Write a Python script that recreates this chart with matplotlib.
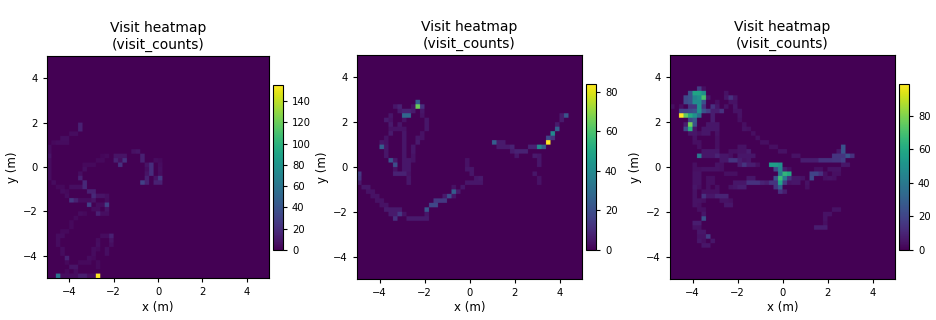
import numpy as np
import matplotlib
matplotlib.use("Agg")
import matplotlib.pyplot as plt

# (col, row, visits) on a 50x50 grid, row 0 at the bottom, everything else is 0
cells_a = [
    (7,34,14),(7,33,14),(5,32,5),(6,32,5),(3,31,6),(4,31,6),(1,30,4),(2,30,5),(3,30,5),(4,30,5),
    (0,29,5),(0,28,5),(19,28,7),(20,28,9),(0,27,8),(12,27,3),(13,27,4),(15,27,8),(16,27,8),(17,27,8),(21,27,14),
    (0,26,5),(11,26,4),(12,26,4),(15,26,14),(17,26,22),(16,26,6),(21,26,14),(24,26,5),(25,26,4),
    (0,25,5),(8,25,4),(9,25,4),(10,25,4),(16,25,22),(22,25,8),(23,25,20),(25,25,5),
    (0,24,5),(8,24,6),(22,24,6),(23,24,20),(25,24,6),
    (0,23,5),(7,23,6),(22,23,8),(23,23,20),(25,23,5),
    (0,22,5),(7,22,14),(22,22,14),(24,22,8),(25,22,25),
    (1,21,5),(8,21,18),(21,21,30),(22,21,14),(24,21,14),(25,21,14),
    (2,20,4),(3,20,4),(5,20,6),(6,20,6),(7,20,6),(8,20,18),
    (3,19,5),(4,19,4),(9,19,14),(10,19,14),
    (4,18,5),(10,18,18),(11,18,8),(12,18,8),(13,18,6),
    (5,17,25),(6,17,14),(7,17,5),(8,17,5),(9,17,5),(10,17,8),(13,17,5),
    (9,16,30),(11,16,5),(12,16,5),(13,16,30),
    (10,15,5),(11,15,5),(13,15,8),
    (7,14,5),(8,14,4),(11,14,14),(12,14,6),(13,14,6),
    (6,13,4),(5,12,4),(5,11,4),(3,10,4),(4,10,4),
    (2,9,5),(3,9,5),(12,9,5),(13,9,5),(14,9,14),
    (2,8,5),(11,8,5),(14,8,8),(2,7,5),(11,7,6),(14,7,6),
    (3,6,5),(10,6,5),(11,6,4),(13,6,6),(3,5,5),(10,5,5),(13,5,6),
    (4,4,14),(9,4,5),(10,4,4),(4,3,4),(7,3,4),(8,3,4),(9,3,4),(11,3,4),
    (5,2,8),(6,2,8),(11,2,4),(4,1,4),(6,1,5),
    (2,0,60),(3,0,5),(4,0,5),(5,0,5),(6,0,5),(7,0,12),(8,0,12),(9,0,5),(10,0,5),(11,0,155),
]
cells_b = [
    (13,39,25),(8,38,5),(9,38,8),(12,38,4),(13,38,65),(14,38,12),
    (9,37,6),(10,37,8),(11,37,8),(12,37,6),(14,37,5),
    (7,36,5),(10,36,28),(11,36,28),(14,36,4),(45,36,6),(46,36,22),
    (6,35,6),(7,35,4),(10,35,4),(15,35,5),(45,35,6),
    (7,34,6),(9,34,5),(15,34,5),(44,34,6),
    (7,33,4),(8,33,4),(9,33,4),(10,33,4),(15,33,5),(44,33,25),
    (7,32,6),(10,32,5),(14,32,4),(43,32,40),
    (6,31,4),(10,31,5),(13,31,5),(14,31,4),(42,31,18),(43,31,12),
    (5,30,5),(6,30,4),(10,30,5),(13,30,6),(30,30,25),(31,30,6),(32,30,6),(42,30,84),
    (5,29,25),(6,29,5),(10,29,5),(12,29,5),(31,29,6),(32,29,6),(33,29,6),(34,29,8),(38,29,8),(39,29,8),(40,29,40),(41,29,25),
    (6,28,5),(10,28,5),(12,28,5),(34,28,6),(35,28,8),(36,28,8),(37,28,8),
    (6,27,5),(10,27,5),(12,27,4),(35,27,5),(39,27,6),(40,27,5),
    (7,26,22),(8,26,6),(10,26,5),(11,26,5),(12,26,4),(24,26,4),(40,26,5),
    (8,25,20),(10,25,5),(11,25,5),(24,25,4),(40,25,5),
    (8,24,4),(10,24,5),(11,24,5),(24,24,5),(25,24,5),
    (0,23,14),(8,23,8),(9,23,8),(10,23,8),(11,23,4),(25,23,5),(39,23,5),
    (0,22,12),(11,22,5),(26,22,5),(27,22,6),(40,22,4),
    (0,21,6),(11,21,5),(24,21,5),(25,21,5),(26,21,5),(27,21,5),(40,21,4),
    (1,20,5),(2,20,5),(21,20,4),(23,20,5),
    (2,19,4),(3,19,4),(21,19,25),(22,19,6),
    (3,18,4),(4,18,4),(19,18,6),(20,18,20),(21,18,5),
    (4,17,4),(5,17,4),(17,17,14),(18,17,14),(19,17,14),
    (5,16,4),(6,16,4),(16,16,18),(17,16,18),
    (6,15,6),(7,15,6),(8,15,6),(9,15,6),(15,15,22),
    (7,14,6),(8,14,6),(9,14,14),(10,14,4),(15,14,5),
    (8,13,12),(11,13,6),(12,13,6),(13,13,6),(14,13,6),(15,13,6),
]
cells_c = [
    (6,42,18),(7,42,4),
    (4,41,25),(5,41,58),(6,41,58),(7,41,50),(12,41,5),
    (3,40,22),(4,40,25),(5,40,45),(6,40,50),(7,40,70),(8,40,6),(12,40,6),(13,40,14),(14,40,6),
    (3,39,22),(4,39,25),(5,39,48),(6,39,48),(7,39,25),(10,39,4),(13,39,5),(14,39,5),
    (0,38,4),(2,38,4),(4,38,15),(5,38,15),(6,38,50),(7,38,15),(9,38,14),(10,38,6),(12,38,5),(14,38,6),
    (2,37,20),(3,37,20),(4,37,22),(5,37,25),(6,37,50),(7,37,25),(8,37,18),(9,37,8),(10,37,8),(11,37,14),(14,37,5),(15,37,5),
    (2,36,99),(3,36,75),(4,36,60),(5,36,50),(6,36,35),(9,36,8),(15,36,5),
    (4,35,22),(5,35,28),(9,35,8),(15,35,4),
    (3,34,8),(4,34,78),(5,34,25),(8,34,6),(9,34,6),(10,34,6),(16,34,4),
    (3,33,22),(4,33,62),(5,33,6),(7,33,6),(8,33,6),(9,33,6),(10,33,6),(16,33,5),(17,33,4),
    (4,32,6),(5,32,6),(6,32,4),(7,32,6),(8,32,6),(10,32,5),(18,32,4),
    (5,31,5),(10,31,4),(19,31,4),
    (5,30,4),(6,30,4),(10,30,4),(20,30,4),(21,30,4),
    (6,29,4),(10,29,4),(15,29,5),(16,29,5),(22,29,4),(23,29,4),(38,29,25),
    (7,28,6),(8,28,6),(9,28,6),(10,28,6),(13,28,4),(14,28,4),(15,28,5),(16,28,5),(17,28,8),(24,28,5),(25,28,5),(37,28,6),(38,28,25),
    (6,27,40),(7,27,6),(8,27,6),(9,27,6),(10,27,10),(11,27,6),(12,27,6),(13,27,4),(15,27,6),(16,27,6),(17,27,6),(18,27,6),(27,27,5),(28,27,5),(36,27,15),(37,27,15),(38,27,15),(39,27,25),(40,27,14),
    (11,26,6),(12,26,6),(13,26,15),(14,26,15),(15,26,8),(16,26,5),(17,26,6),(29,26,8),(30,26,8),(31,26,8),(32,26,8),(33,26,14),(34,26,14),(35,26,14),(36,26,15),(37,26,15),(38,26,18),
    (5,25,4),(10,25,5),(11,25,4),(15,25,8),(16,25,15),(17,25,8),(18,25,8),(19,25,4),(22,25,55),(23,25,55),(24,25,50),(38,25,6),(39,25,6),
    (5,24,4),(6,24,4),(7,24,5),(8,24,5),(9,24,5),(10,24,5),(11,24,4),(23,24,22),(24,24,45),(25,24,8),(26,24,4),(32,24,4),(33,24,4),(35,24,5),(36,24,5),(37,24,5),
    (5,23,5),(6,23,5),(12,23,4),(13,23,4),(14,23,4),(24,23,40),(25,23,65),(26,23,60),(31,23,20),(32,23,20),(33,23,14),(34,23,4),(36,23,4),(37,23,4),
    (5,22,5),(6,22,5),(8,22,4),(9,22,4),(17,22,6),(18,22,6),(23,22,25),(24,22,68),(25,22,40),(26,22,14),(27,22,6),(28,22,6),(29,22,5),(31,22,22),(34,22,4),(35,22,5),(36,22,4),
    (5,21,5),(6,21,5),(8,21,4),(9,21,4),(14,21,6),(15,21,6),(16,21,6),(17,21,14),(18,21,14),(19,21,14),(20,21,10),(21,21,8),(22,21,15),(23,21,15),(24,21,58),(25,21,18),(26,21,5),(27,21,6),(28,21,6),(30,21,5),
    (5,20,6),(6,20,4),(8,20,4),(10,20,4),(13,20,5),(14,20,6),(15,20,8),(16,20,8),(23,20,15),(24,20,30),(30,20,4),
    (5,19,5),(7,19,4),(8,19,4),(9,19,4),(10,19,4),(24,19,14),(25,19,8),
    (5,18,5),(7,18,14),(8,18,6),(9,18,6),(10,18,10),(11,18,10),(12,18,10),
    (5,17,5),(6,17,5),(7,17,4),(11,17,5),(12,17,5),(13,17,4),
    (5,16,5),(6,16,4),(12,16,6),(13,16,6),
    (6,15,4),(7,15,4),(36,15,5),(37,15,5),
    (7,14,6),(34,14,5),(35,14,5),
    (7,13,25),(34,13,5),
    (5,12,8),(6,12,8),(34,12,4),
    (5,11,5),(6,11,5),(32,11,8),(33,11,8),(34,11,8),
    (6,10,6),(7,10,6),
    (6,9,5),(7,9,5),(8,9,18),
    (6,8,6),(7,8,4),(9,8,6),
    (7,7,6),(8,7,6),
]
panel_cells = [cells_a, cells_b, cells_c]
cbar_ticks = [list(range(0, 141, 20)), list(range(0, 81, 20)), list(range(0, 81, 20))]

# pixel boxes measured on the reference (left, top, right, bottom)
W, H = 936, 320
axes_px = [(47, 56, 269, 278), (357, 55, 582, 279), (670, 55, 895, 279)]
cbar_px = [(273, 85, 283, 250), (586, 84, 596, 250), (899, 84, 909, 250)]


def box(px):
    l, t, r, b = px
    return [l / W, 1 - b / H, (r - l) / W, (b - t) / H]


fig = plt.figure(figsize=(W / 100, H / 100), dpi=100)
for cells, ap, cp, ticks in zip(panel_cells, axes_px, cbar_px, cbar_ticks):
    grid = np.zeros((50, 50))
    for c, r, v in cells:
        grid[r, c] = v
    ax = fig.add_axes(box(ap))
    # repeat the cells so the downsampling softens the edges like the reference
    fine = np.repeat(np.repeat(grid, 8, axis=0), 8, axis=1)
    im = ax.imshow(fine, origin="lower", extent=[-5, 5, -5, 5], cmap="viridis", aspect="auto",
                   interpolation="hanning", interpolation_stage="rgba")
    ax.set_title("Visit heatmap\n(visit_counts)", fontsize=10, pad=5, linespacing=1.3)
    ax.set_xlabel("x (m)", fontsize=8.5, labelpad=2.5)
    ax.set_ylabel("y (m)", fontsize=8.5, labelpad=3)
    ax.set_xticks([-4, -2, 0, 2, 4])
    ax.set_yticks([-4, -2, 0, 2, 4])
    ax.tick_params(labelsize=7.2, length=3, pad=3.5)
    cax = fig.add_axes(box(cp))
    cb = fig.colorbar(im, cax=cax)
    cb.set_ticks(ticks)
    cb.ax.tick_params(labelsize=7.2, length=3, pad=3.5)

fig.savefig("out.png", dpi=100)
